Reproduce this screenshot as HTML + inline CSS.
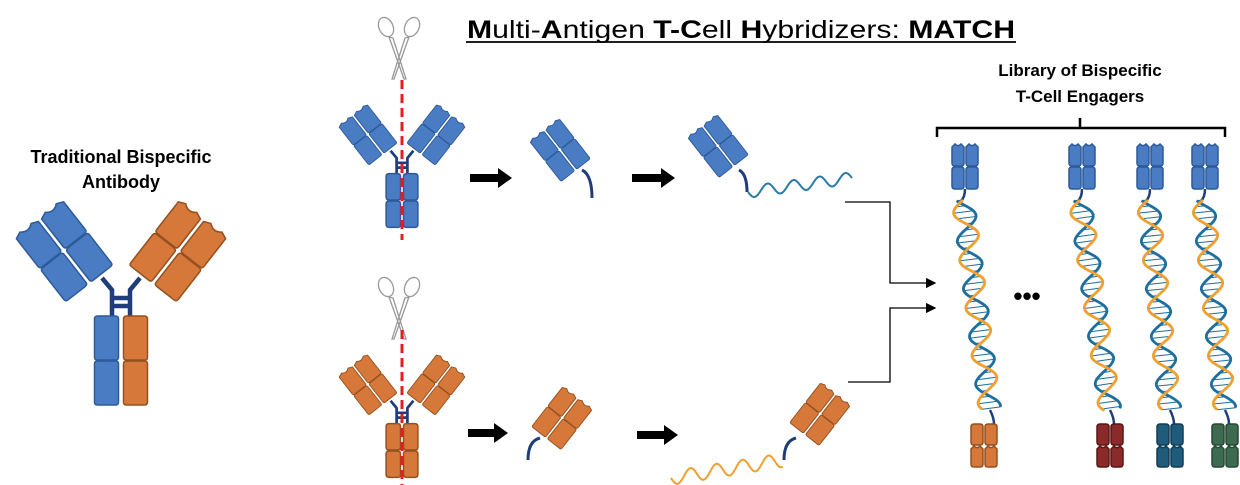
<!DOCTYPE html>
<html><head><meta charset="utf-8"><style>
html,body{margin:0;padding:0;background:#fff;width:1240px;height:485px;overflow:hidden}
svg{display:block}
text{font-family:"Liberation Sans",Arial,sans-serif;font-weight:bold;fill:#000}
</style></head><body>
<svg id="s" width="1240" height="485" viewBox="0 0 1240 485" xmlns="http://www.w3.org/2000/svg">
<defs>
<marker id="ah" markerWidth="8" markerHeight="8" refX="7" refY="4" orient="auto"><path d="M0,0 L8,4 L0,8 z" fill="#000"/></marker>
</defs>
<text x="467" y="38" font-size="25" textLength="548" lengthAdjust="spacingAndGlyphs">M<tspan font-weight="normal">ulti-</tspan>A<tspan font-weight="normal">ntigen </tspan>T-C<tspan font-weight="normal">ell </tspan>H<tspan font-weight="normal">ybridizers: </tspan>MATCH</text>
<line x1="466" y1="42" x2="1016" y2="42" stroke="#000" stroke-width="1.8"/>
<text x="121" y="163" font-size="18" text-anchor="middle">Traditional Bispecific</text>
<text x="121" y="188" font-size="18" text-anchor="middle">Antibody</text>
<text x="1080" y="76" font-size="17" text-anchor="middle">Library of Bispecific</text>
<text x="1080" y="102" font-size="17" text-anchor="middle">T-Cell Engagers</text>
<path d="M937,137 V128 H1225 V137 M1080,128 V118" fill="none" stroke="#000" stroke-width="2.5"/>
<text x="1027" y="305" font-size="26" text-anchor="middle">•••</text>
<g id="dyn"></g>
<g fill="#000">
<path d="M470,174 h28 v-6 l14,10 l-14,10 v-6 h-28z"/>
<path d="M632,174 h29 v-6 l14,10 l-14,10 v-6 h-29z"/>
<path d="M468,429 h26 v-6 l14,10 l-14,10 v-6 h-26z"/>
<path d="M637,431 h27 v-6 l14,10 l-14,10 v-6 h-27z"/>
</g>
<path d="M845,202 H890 V283 H935" fill="none" stroke="#000" stroke-width="1.3" marker-end="url(#ah)"/>
<path d="M848,382 H890 V308 H935" fill="none" stroke="#000" stroke-width="1.3" marker-end="url(#ah)"/>
<line x1="402" y1="80" x2="402" y2="240" stroke="#e02020" stroke-width="3" stroke-dasharray="9,5"/>
<line x1="402" y1="330" x2="402" y2="485" stroke="#e02020" stroke-width="3" stroke-dasharray="9,5"/>
</svg>
<script>
var B=['#4a7cc4','#2c5a9a'],O=['#d5783a','#94501f'],R=['#8b2a2a','#5a1515'],T=['#1f5b7a','#123d55'],G=['#3e6b4f','#234a33'];
var NAVY='#1f3d7a';
function dom(x,y,w,h,notch,c){
 var p;
 if(notch){p='M'+x+','+(y+3)+' l'+(w*0.25)+',-3 q'+(w*0.25)+','+(h*0.15)+' '+(w*0.5)+',0 l'+(w*0.25)+',3 v'+(h-6)+' q0,3 -3,3 h'+(-(w-6))+' q-3,0 -3,-3 z';}
 else p='M'+(x+3)+','+y+' h'+(w-6)+' q3,0 3,3 v'+(h-6)+' q0,3 -3,3 h'+(-(w-6))+' q-3,0 -3,-3 v'+(-(h-6))+' q0,-3 3,-3 z';
 return '<path d="'+p+'" fill="'+c[0]+'" stroke="'+c[1]+'" stroke-width="1.5"/>';
}
function arm(cx,cy,rot,s,c){
 var g='<g transform="translate('+cx+','+cy+') rotate('+rot+') scale('+s+')">';
 g+=dom(-30,-42,28,41,1,c)+dom(-30,0,28,41,0,c);
 g+=dom(2,-42,28,41,1,c)+dom(2,0,28,41,0,c);
 return g+'</g>';
}
function helix(x0,y0,x1,y1,amp,per,c1,c2,rungs,w){
 var n=Math.hypot(x1-x0,y1-y0),ux=(x1-x0)/n,uy=(y1-y0)/n,px=-uy,py=ux;
 var a='',b='',r='';
 for(var t=0;t<=n;t+=2){
  var s1=amp*Math.sin(t/per*2*Math.PI),s2=amp*Math.sin(t/per*2*Math.PI+Math.PI*0.8);
  var bx=x0+ux*t,by=y0+uy*t;
  a+=(t?'L':'M')+(bx+px*s1).toFixed(1)+','+(by+py*s1).toFixed(1);
  b+=(t?'L':'M')+(bx+px*s2).toFixed(1)+','+(by+py*s2).toFixed(1);
  if(rungs&&t%6==0)r+='M'+(bx+px*s1).toFixed(1)+','+(by+py*s1).toFixed(1)+'L'+(bx+px*s2).toFixed(1)+','+(by+py*s2).toFixed(1);
 }
 var out='';
 if(rungs)out+='<path d="'+r+'" stroke="'+c2+'" stroke-width="1" fill="none"/>';
 out+='<path d="'+b+'" stroke="'+c2+'" stroke-width="'+w+'" fill="none"/>';
 if(c1)out+='<path d="'+a+'" stroke="'+c1+'" stroke-width="'+w+'" fill="none"/>';
 return out;
}
function wave(x0,y0,x1,y1,amp,per,c){
 var d='';for(var x=x0;x<=x1;x+=2){var f=(x-x0)/(x1-x0);d+=(x==x0?'M':'L')+x+','+(y0+(y1-y0)*f+amp*Math.sin((x-x0)/per*2*Math.PI)).toFixed(1);}
 return '<path d="'+d+'" stroke="'+c+'" stroke-width="2" fill="none"/>';
}
function antibody(cx,top,s,c1,c2){
 var g='';
 var hw=9*s;
 g+='<path d="M'+(cx-hw)+','+(top+30*s)+' V'+(top)+' L'+(cx-hw-10*s)+','+(top-12*s)+' M'+(cx+hw)+','+(top+30*s)+' V'+(top)+' L'+(cx+hw+10*s)+','+(top-12*s)+' M'+(cx-hw)+','+(top+8*s)+' H'+(cx+hw)+' M'+(cx-hw)+','+(top+16*s)+' H'+(cx+hw)+'" stroke="'+NAVY+'" stroke-width="'+(4.5*s)+'" fill="none"/>';
 g+=arm(cx-57*s,top-39*s,-38,s,c1);
 g+=arm(cx+57*s,top-39*s,38,s,c2);
 var w=24*s,h=44*s;
 g+=dom(cx-w-2.5*s,top+26*s,w,h,0,c1)+dom(cx-w-2.5*s,top+26*s+h+1,w,h,0,c1);
 g+=dom(cx+2.5*s,top+26*s,w,h,0,c2)+dom(cx+2.5*s,top+26*s+h+1,w,h,0,c2);
 return g;
}
function scissors(x,y){
 return '<g fill="none" stroke="#999" stroke-width="1.3"><ellipse cx="'+(x-13)+'" cy="'+(y-10)+'" rx="7" ry="10" transform="rotate(-25 '+(x-13)+' '+(y-10)+')"/><ellipse cx="'+(x+13)+'" cy="'+(y-10)+'" rx="7" ry="10" transform="rotate(25 '+(x+13)+' '+(y-10)+')"/><path d="M'+(x-10)+','+(y)+' L'+(x+5)+','+(y+42)+' L'+(x+7)+','+(y+42)+' L'+(x-6)+','+(y+1)+'z M'+(x+10)+','+(y)+' L'+(x-5)+','+(y+42)+' L'+(x-7)+','+(y+42)+' L'+(x+6)+','+(y+1)+'z"/></g>';
}
var h='';
h+=antibody(121,290,1,B,O);
h+=antibody(402,158,0.6,B,B);
h+=antibody(402,408,0.6,O,O);
h+=scissors(399,37);h+=scissors(399,297);
h+='<path d="M582,170 q10,5 10,28" stroke="'+NAVY+'" stroke-width="3" fill="none"/>';
h+=arm(560,150,-38,0.62,B);
h+='<path d="M739,170 q8,4 8,22" stroke="'+NAVY+'" stroke-width="3" fill="none"/>';
h+=arm(718,146,-38,0.62,B);
h+=wave(748,192,852,178,6,26,'#2a7aa8');
h+='<path d="M540,438 q-12,3 -12,22" stroke="'+NAVY+'" stroke-width="3" fill="none"/>';
h+=arm(562,418,38,0.62,O);
h+='<path d="M796,438 q-12,3 -12,22" stroke="'+NAVY+'" stroke-width="3" fill="none"/>';
h+=arm(820,414,38,0.62,O);
h+=wave(671,478,784,460,7,26,'#f0a030');
var cols=[[965,990,O],[1082,1110,R],[1150,1170,T],[1205,1225,G]];
cols.forEach(function(c,i){
 var x=c[0],xb=c[1];
 h+=dom(x-13,144,12,22,1,B)+dom(x+1,144,12,22,1,B)+dom(x-13,167,12,22,0,B)+dom(x+1,167,12,22,0,B);
 h+='<path d="M'+x+',189 q0,8 -4,12" stroke="'+NAVY+'" stroke-width="2.5" fill="none"/>';
 h+=helix(x-2,200,xb,410,11,48,'#f0a030','#1e6e9e',true,2.8);
 h+='<path d="M'+xb+',410 q4,8 4,14" stroke="'+NAVY+'" stroke-width="2.5" fill="none"/>';
 var xc=xb+(i==0?-6:0);
 h+=dom(xc-13,424,12,21,0,c[2])+dom(xc+1,424,12,21,0,c[2])+dom(xc-13,446,12,21,1,c[2])+dom(xc+1,446,12,21,1,c[2]);
});
document.getElementById('dyn').innerHTML=h;
</script>
</body></html>
